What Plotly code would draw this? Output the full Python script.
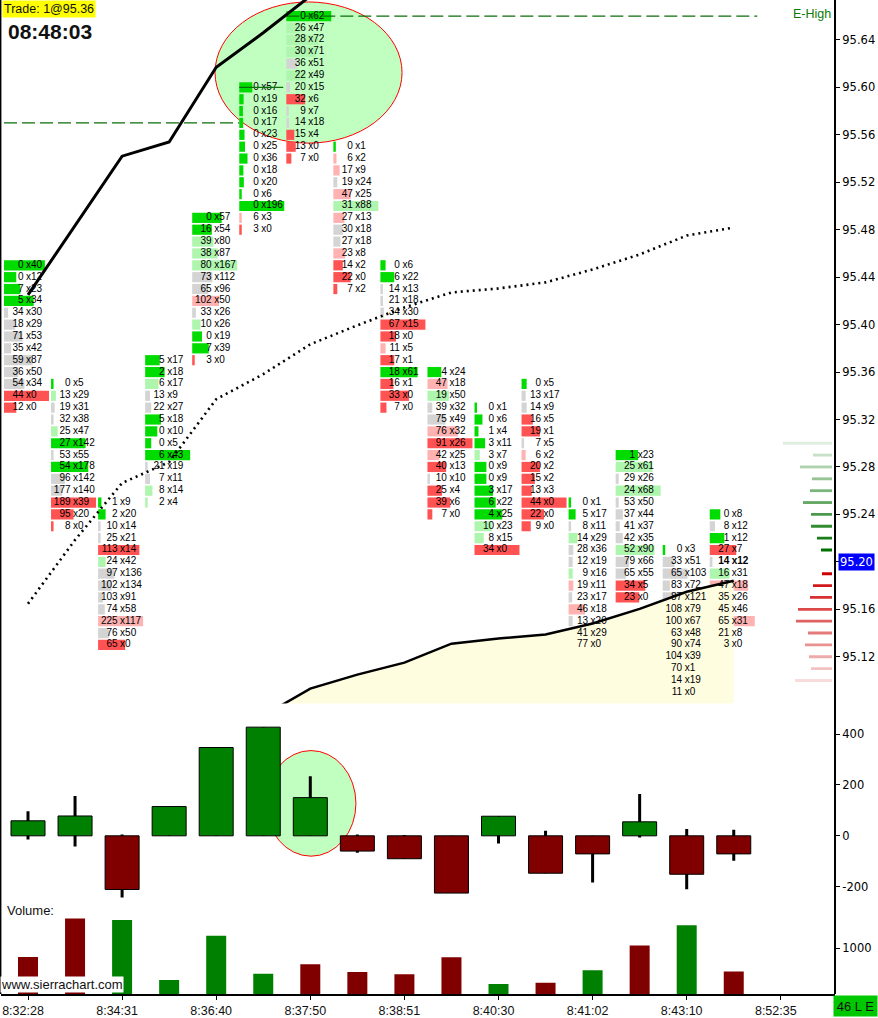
import plotly.graph_objects as go

# ---------------------------------------------------------------- data
TIME_LABELS = ["8:32:28", "8:34:31", "8:36:40", "8:37:50", "8:38:51",
               "8:40:30", "8:41:02", "8:43:10", "8:52:35"]
TIME_LABEL_BARS = [0, 2, 4, 6, 8, 10, 12, 14, 16]

# top price of each footprint column (rows go down one tick each)
FP_TOP = [95.45, 95.35, 95.25, 95.37, 95.49, 95.60, 95.66, 95.55,
          95.45, 95.36, 95.33, 95.35, 95.25, 95.29, 95.21, 95.24]

BID_01 = [0, 0, 7, 5, 34, 18, 71, 35, 59, 36, 54, 44, 12]
ASK_01 = [40, 12, 23, 34, 30, 29, 53, 42, 87, 50, 34, 0, 0]
BID_02 = [0, 13, 19, 32, 25, 27, 53, 54, 96, 177, 189, 95, 8]
ASK_02 = [5, 29, 31, 38, 47, 142, 55, 178, 142, 140, 39, 20, 0]
BID_03 = [1, 2, 10, 25, 113, 24, 97, 102, 103, 74, 225, 76, 65]
ASK_03 = [9, 20, 14, 21, 14, 42, 136, 134, 91, 58, 117, 50, 0]
BID_04 = [5, 2, 6, 13, 22, 5, 0, 0, 6, 21, 7, 8, 2]
ASK_04 = [17, 18, 17, 9, 27, 18, 10, 5, 43, 19, 11, 14, 4]
BID_05 = [0, 16, 39, 38, 80, 73, 65, 102, 33, 10, 0, 7, 3]
ASK_05 = [57, 54, 80, 87, 167, 112, 96, 50, 26, 26, 19, 39, 0]
BID_06 = [0, 0, 0, 0, 0, 0, 0, 0, 0, 0, 0, 6, 3]
ASK_06 = [57, 19, 16, 17, 23, 25, 36, 18, 20, 6, 196, 3, 0]
BID_07 = [0, 26, 28, 30, 36, 22, 20, 32, 9, 14, 15, 13, 7]
ASK_07 = [62, 47, 72, 71, 51, 49, 15, 6, 7, 18, 4, 0, 0]
BID_08 = [0, 6, 17, 19, 47, 31, 27, 30, 27, 23, 14, 22, 7]
ASK_08 = [1, 2, 9, 24, 25, 88, 13, 18, 18, 8, 2, 0, 2]
BID_09 = [0, 6, 14, 21, 34, 67, 18, 11, 17, 18, 16, 33, 7]
ASK_09 = [6, 22, 13, 18, 30, 15, 0, 5, 1, 61, 1, 0, 0]
BID_10 = [4, 47, 19, 39, 75, 76, 91, 42, 40, 10, 25, 39, 7]
ASK_10 = [24, 18, 50, 32, 49, 32, 26, 25, 13, 10, 4, 6, 0]
BID_11 = [0, 0, 1, 3, 3, 0, 0, 3, 6, 4, 10, 8, 34]
ASK_11 = [1, 6, 4, 11, 7, 9, 9, 17, 22, 25, 23, 15, 0]
BID_12 = [0, 13, 14, 16, 19, 7, 6, 20, 15, 13, 44, 22, 9]
ASK_12 = [5, 17, 9, 5, 1, 5, 2, 2, 2, 3, 0, 0, 0]
BID_13 = [0, 5, 8, 14, 28, 12, 9, 19, 23, 46, 13, 41, 77]
ASK_13 = [1, 17, 11, 29, 36, 19, 16, 11, 17, 18, 20, 29, 0]
BID_14 = [1, 25, 29, 24, 53, 37, 41, 42, 52, 79, 65, 34, 23]
ASK_14 = [23, 61, 26, 68, 50, 44, 37, 35, 90, 66, 55, 5, 0]
BID_15 = [0, 33, 65, 83, 87, 108, 100, 63, 90, 104, 70, 14, 11]
ASK_15 = [3, 51, 103, 72, 121, 79, 67, 48, 74, 39, 1, 19, 0]
BID_16 = [0, 8, 1, 27, 14, 16, 47, 35, 45, 65, 21, 3]
ASK_16 = [8, 12, 12, 7, 12, 31, 18, 26, 46, 31, 8, 0]

BIDS = [BID_01, BID_02, BID_03, BID_04, BID_05, BID_06, BID_07, BID_08,
        BID_09, BID_10, BID_11, BID_12, BID_13, BID_14, BID_15, BID_16]
ASKS = [ASK_01, ASK_02, ASK_03, ASK_04, ASK_05, ASK_06, ASK_07, ASK_08,
        ASK_09, ASK_10, ASK_11, ASK_12, ASK_13, ASK_14, ASK_15, ASK_16]

LAST_PRICE = 95.20
E_HIGH = 95.66
PRIOR_LEVEL = 95.57
PRIOR_LEVEL_END_BAR = 5
MARK_LEVEL = 95.60
MARK_BAR = 5

UPPER_BAND = [95.425, 95.4835, 95.542, 95.554, 95.617, 95.646, 95.677,
              None, None, None, None, None, None, None, None, None]
LOWER_BAND = [None, None, None, None, None, 95.0703, 95.0931, 95.1049, 95.115,
              95.131, 95.1353, 95.1387, 95.1481, 95.1604, 95.1748, 95.184]
VWAP = [95.1647, 95.2185, 95.2665, 95.2841, 95.3371, 95.3582, 95.3834, 95.3994,
        95.4145, 95.4271, 95.4305, 95.4356, 95.4465, 95.4591, 95.4751, 95.4818]

DELTA_CLOSE = [59, 78, -211, 115, 347, 427, 150, -60, -90, -225, 77, -147, -71, 55, -151, -71]
DELTA_HIGH = [97, 156, 5, 115, 347, 427, 234, 5, 3, 0, 77, 20, 0, 164, 27, 24]
DELTA_LOW = [-14, -42, -242, 0, 0, 0, 0, -67, -90, -225, -30, -147, -183, -7, -210, -98]
VOLUME = [809, 1654, 1623, 309, 1279, 445, 654, 480, 434, 803, 221, 249, 519, 1065, 1505, 493]
BAR_UP = [False, False, True, True, True, True, False, False,
          False, False, True, False, True, False, True, False]

ASK_DEPTH_PRICES = [95.21, 95.22, 95.23, 95.24, 95.25, 95.26, 95.27, 95.28, 95.29, 95.30]
ASK_DEPTH = [11, 15, 21, 21, 29, 22, 20, 32, 19, 49]
BID_DEPTH_PRICES = [95.19, 95.18, 95.17, 95.16, 95.15, 95.14, 95.13, 95.12, 95.11, 95.10]
BID_DEPTH = [10, 19, 22, 34, 36, 24, 27, 23, 21, 37]

PRICE_TICKS = [95.12, 95.16, 95.20, 95.24, 95.28, 95.32, 95.36, 95.40,
               95.44, 95.48, 95.52, 95.56, 95.60, 95.64]
DELTA_TICKS = [-200, 0, 200, 400]
VOLUME_TICKS = [1000]

HIGHLIGHT_BARS = (3.975, 7.95)
HIGHLIGHT_PRICES = (95.553, 95.672)
HIGHLIGHT_DELTA_BARS = (5.06, 6.97)
HIGHLIGHT_DELTA = (-80, 335)

TRADE_TEXT = "Trade: 1@95.36"
CLOCK_TEXT = "08:48:03"
STATUS_TEXT = "46 L E"

# ---------------------------------------------------------------- geometry
W, H = 878, 1018
ML, MR, MT, MB = 1, 43, 0, 22
PW, PH = W - ML - MR, H - MT - MB
BAR_PX = 47.05
FIRST_BAR_PX = 28
X_LO = (ML - FIRST_BAR_PX) / BAR_PX
X_HI = (ML + PW - FIRST_BAR_PX) / BAR_PX
TICK = 0.01
PX_PER_TICK = 11.886
REF_PRICE, REF_PX = 95.64, 40
MAIN_BOTTOM_PX = 705
P_HI = REF_PRICE + REF_PX / PX_PER_TICK * TICK
P_LO = REF_PRICE - (MAIN_BOTTOM_PX - REF_PX) / PX_PER_TICK * TICK
DELTA_TOP_PX, DELTA_BOT_PX, DELTA_ZERO_PX, DELTA_PX_PER = 707, 903, 837.5, 0.255
VOL_TOP_PX, VOL_PX_PER = 904, 0.0457

def px(p):
    return p / BAR_PX

def paper_x(p):
    return (p - ML) / PW

def paper_y(p):
    return (PH - (p - MT)) / PH

STRONG_G, LIGHT_G, NEUTRAL, LIGHT_R, STRONG_R = "#00dc00", "#aef5ae", "#d4d4d4", "#ffb2b2", "#ff5252"

def cell_color(b, a):
    t = b + a
    r = (a - b) / t if t else 0
    if r > 0.5:
        return STRONG_G
    if r > 0.25:
        return LIGHT_G
    if r < -0.5:
        return STRONG_R
    if r < -0.25:
        return LIGHT_R
    return NEUTRAL

fp_y, fp_len, fp_base, fp_col = [], [], [], []
tx_bid, tx_ask, tx_y, tx_xb, tx_xa = [], [], [], [], []
for i, (bids, asks) in enumerate(zip(BIDS, ASKS)):
    mx = max(abs(a - b) for a, b in zip(asks, bids)) or 1
    for k, (b, a) in enumerate(zip(bids, asks)):
        price = round(FP_TOP[i] - k * TICK, 2)
        fp_y.append(price)
        fp_base.append(i - px(24))
        fp_len.append(max(px(2.5), abs(a - b) / mx * px(45)))
        fp_col.append(cell_color(b, a))
        bold = (i == len(BIDS) - 1 and abs(price - LAST_PRICE) < 1e-6)
        tx_bid.append(f"<b>{b}</b>" if bold else str(b))
        tx_ask.append(f"<b>x{a}</b>" if bold else f"x{a}")
        tx_y.append(price)
        tx_xb.append(i - px(4.5))
        tx_xa.append(i - px(2.0))

bars = list(range(len(DELTA_CLOSE)))
FP_FONT = dict(family="Liberation Sans, Arial, sans-serif", size=10, color="#000000")

fig = go.Figure()

# lower band fill (below footprint)
fig.add_trace(go.Scatter(x=bars, y=LOWER_BAND, mode="lines", fill="tozeroy",
                         fillcolor="#fffde0", line=dict(width=0), xaxis="x", yaxis="y"))

# footprint cells
fig.add_trace(go.Bar(y=fp_y, x=fp_len, base=fp_base, orientation="h", width=TICK * 0.86,
                     marker=dict(color=fp_col, line=dict(width=0)), xaxis="x", yaxis="y"))
fig.add_trace(go.Scatter(x=tx_xb, y=tx_y, text=tx_bid, mode="text", textposition="middle left",
                         textfont=FP_FONT, xaxis="x", yaxis="y"))
fig.add_trace(go.Scatter(x=tx_xa, y=tx_y, text=tx_ask, mode="text", textposition="middle right",
                         textfont=FP_FONT, xaxis="x", yaxis="y"))

# level lines
LVL = "#0a6e0a"
fig.add_trace(go.Scatter(x=[X_LO + px(3), PRIOR_LEVEL_END_BAR - px(24)], y=[PRIOR_LEVEL] * 2,
                         mode="lines", line=dict(color=LVL, width=1.3, dash="13px,5px"),
                         xaxis="x", yaxis="y"))
fig.add_trace(go.Scatter(x=[MARK_BAR - px(24), MARK_BAR + px(20)], y=[MARK_LEVEL] * 2,
                         mode="lines", line=dict(color=LVL, width=1.3), xaxis="x", yaxis="y"))
fig.add_trace(go.Scatter(x=[6 - px(24), 15.5], y=[E_HIGH] * 2,
                         mode="lines", line=dict(color=LVL, width=1.3, dash="13px,5px"),
                         xaxis="x", yaxis="y"))

# study lines
fig.add_trace(go.Scatter(x=bars, y=LOWER_BAND, mode="lines", line=dict(color="black", width=2.5),
                         xaxis="x", yaxis="y"))
fig.add_trace(go.Scatter(x=bars, y=UPPER_BAND, mode="lines", line=dict(color="black", width=3),
                         xaxis="x", yaxis="y"))
fig.add_trace(go.Scatter(x=bars, y=VWAP, mode="lines", line=dict(color="black", width=2.6, dash="2px,4px"),
                         xaxis="x", yaxis="y"))

# market depth on the right edge
def fade(rgb, t):
    return "rgb(%d,%d,%d)" % tuple(round(c + (255 - c) * t) for c in rgb)

ask_cols = [fade((0, 112, 0), 0.88 * k / (len(ASK_DEPTH) - 1)) for k in range(len(ASK_DEPTH))]
bid_cols = [fade((205, 0, 0), 0.86 * k / (len(BID_DEPTH) - 1)) for k in range(len(BID_DEPTH))]
fig.add_trace(go.Bar(y=ASK_DEPTH_PRICES + BID_DEPTH_PRICES, x=ASK_DEPTH + BID_DEPTH, base=3,
                     orientation="h", width=TICK * 0.24,
                     marker=dict(color=ask_cols + bid_cols, line=dict(width=0)),
                     xaxis="x2", yaxis="y"))

# delta candles
fig.add_trace(go.Bar(x=bars, base=DELTA_LOW, y=[h - l for h, l in zip(DELTA_HIGH, DELTA_LOW)],
                     width=px(3), marker=dict(color="black", line=dict(width=0)),
                     xaxis="x", yaxis="y2"))
fig.add_trace(go.Bar(x=bars, y=DELTA_CLOSE, width=px(34),
                     marker=dict(color=["#008000" if d >= 0 else "#800000" for d in DELTA_CLOSE],
                                 line=dict(color="black", width=1)),
                     xaxis="x", yaxis="y2"))

# volume
fig.add_trace(go.Bar(x=bars, y=VOLUME, width=px(20),
                     marker=dict(color=["#008000" if u else "#800000" for u in BAR_UP], line=dict(width=0)),
                     xaxis="x", yaxis="y3"))

AX_FONT = dict(family="DejaVu Sans, Verdana, sans-serif", size=11.5, color="black")
common_y = dict(side="right", anchor="x", showgrid=False, zeroline=False, showline=False,
                ticks="outside", ticklen=4, tickcolor="black", tickfont=AX_FONT, fixedrange=True)

price_text = ["" if abs(p - LAST_PRICE) < 1e-6 else "%.2f" % p for p in PRICE_TICKS]

fig.update_layout(
    width=W, height=H, margin=dict(l=ML, r=MR, t=MT, b=MB),
    paper_bgcolor="white", plot_bgcolor="white", showlegend=False,
    barmode="overlay", hovermode=False,
    xaxis=dict(range=[X_LO, X_HI], anchor="y3", showgrid=False, zeroline=False,
               showline=True, linecolor="black", linewidth=2,
               tickvals=TIME_LABEL_BARS, ticktext=TIME_LABELS, ticks="outside", ticklen=4,
               tickcolor="black", ticklabelshift=-5,
               tickfont=dict(family="Liberation Sans Narrow, Arial Narrow, Liberation Sans, sans-serif",
                             size=12.5, color="#111111")),
    xaxis2=dict(overlaying="x", range=[PW, 0], visible=False, anchor="y"),
    yaxis=dict(domain=[(PH - MAIN_BOTTOM_PX) / PH, 1], range=[P_LO, P_HI],
               tickvals=PRICE_TICKS, ticktext=price_text, **common_y),
    yaxis2=dict(domain=[(PH - DELTA_BOT_PX) / PH, (PH - DELTA_TOP_PX) / PH],
                range=[-(DELTA_BOT_PX - DELTA_ZERO_PX) / DELTA_PX_PER, (DELTA_ZERO_PX - DELTA_TOP_PX) / DELTA_PX_PER],
                tickvals=DELTA_TICKS, ticktext=[str(v) for v in DELTA_TICKS], **common_y),
    yaxis3=dict(domain=[0, (PH - VOL_TOP_PX) / PH], range=[0, (PH - VOL_TOP_PX) / VOL_PX_PER],
                tickvals=VOLUME_TICKS, ticktext=[str(v) for v in VOLUME_TICKS], **common_y),
)

shapes = [
    dict(type="circle", xref="x", yref="y", x0=HIGHLIGHT_BARS[0], x1=HIGHLIGHT_BARS[1],
         y0=HIGHLIGHT_PRICES[0], y1=HIGHLIGHT_PRICES[1], fillcolor="#c0ffc0",
         line=dict(color="red", width=1), layer="below"),
    dict(type="circle", xref="x", yref="y2", x0=HIGHLIGHT_DELTA_BARS[0], x1=HIGHLIGHT_DELTA_BARS[1],
         y0=HIGHLIGHT_DELTA[0], y1=HIGHLIGHT_DELTA[1], fillcolor="#c0ffc0",
         line=dict(color="red", width=1), layer="below"),
    dict(type="line", xref="paper", yref="paper", x0=1, x1=1, y0=0, y1=1,
         line=dict(color="black", width=2), layer="above"),
    dict(type="line", xref="paper", yref="paper", x0=-0.0004, x1=-0.0004, y0=0, y1=1,
         line=dict(color="black", width=1.5), layer="above"),
]
fig.update_layout(shapes=shapes)

SANS = "Liberation Sans, Arial, sans-serif"
NARROW = "Liberation Sans Narrow, Arial Narrow, Liberation Sans, sans-serif"
ann = [
    dict(text=TRADE_TEXT, xref="paper", yref="paper", x=paper_x(2), y=paper_y(0),
         xanchor="left", yanchor="top", showarrow=False, bgcolor="#ffff00", borderpad=1,
         font=dict(family=SANS, size=12.5, color="#111111")),
    dict(text="<b>%s</b>" % CLOCK_TEXT, xref="paper", yref="paper", x=paper_x(6), y=paper_y(32),
         xanchor="left", yanchor="middle", showarrow=False,
         font=dict(family=SANS, size=21, color="#111111")),
    dict(text="E-High", xref="paper", yref="y", x=paper_x(833), y=E_HIGH, yshift=2,
         xanchor="right", yanchor="middle", showarrow=False,
         font=dict(family=SANS, size=12.5, color="#0a7a0a")),
    dict(text="%.2f" % LAST_PRICE, xref="paper", yref="y", x=1, xshift=3, y=LAST_PRICE,
         xanchor="left", yanchor="middle", showarrow=False, bgcolor="#0000ff", borderpad=1,
         font=dict(family="DejaVu Sans, Verdana, sans-serif", size=11.5, color="white")),
    dict(text="Volume:", xref="paper", yref="paper", x=paper_x(5), y=paper_y(912),
         xanchor="left", yanchor="middle", showarrow=False,
         font=dict(family=NARROW, size=13, color="#111111")),
    dict(text="www.sierrachart.com", xref="paper", yref="paper", x=paper_x(0), y=paper_y(995),
         xanchor="left", yanchor="bottom", showarrow=False, bgcolor="white", borderpad=0,
         font=dict(family=NARROW, size=13, color="#111111")),
    dict(text=STATUS_TEXT, xref="paper", yref="paper", x=paper_x(855.5), y=paper_y(1008),
         xanchor="center", yanchor="middle", showarrow=False, bgcolor="#00c800",
         width=41, height=18, font=dict(family=NARROW, size=13, color="#111111")),
]
fig.update_layout(annotations=ann)

fig.write_html("out.html", config={"displayModeBar": False},
               post_script="document.body.style.margin='0px';")
